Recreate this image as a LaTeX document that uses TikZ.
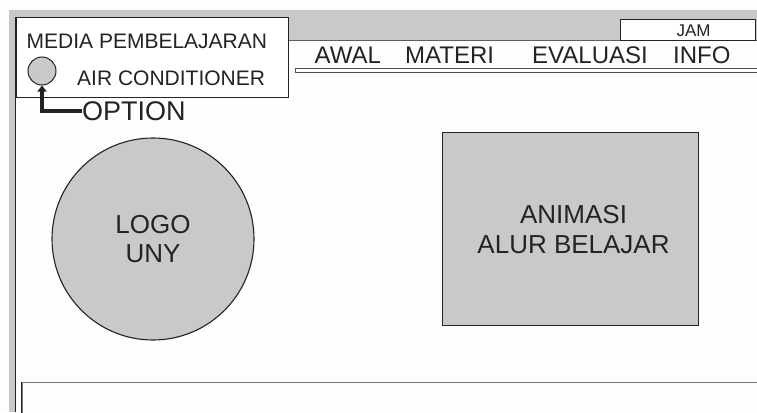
\documentclass[tikz,border=0pt]{standalone}
\usepackage{fontspec}
\setmainfont{Liberation Sans}
\usetikzlibrary{arrows.meta}

\definecolor{panelgrey}{RGB}{200,202,202}
\definecolor{inkdark}{RGB}{38,34,35}
\definecolor{edgegrey}{RGB}{120,120,120}
\definecolor{pagebg}{RGB}{253,253,253}

\tikzset{
  shapebox/.style={draw=inkdark, line width=1.1pt, fill=panelgrey},
  framebox/.style={draw=inkdark, line width=1.1pt, fill=white},
  label/.style={inner sep=0pt, text=inkdark},
  menuitem/.style={label, anchor=base west, font=\fontsize{24}{28}\selectfont},
  paneltext/.style={label, anchor=base west, font=\fontsize{21}{24}\selectfont},
  optarrow/.style={draw=inkdark, line width=3.8pt, -{Triangle[width=9pt,length=6pt]}},
}

\begin{document}
\begin{tikzpicture}[x=1pt, y=-1pt]
  % page
  \useasboundingbox (0,0) rectangle (757,412);
  \fill[pagebg] (0,0) rectangle (757,412);

  % window chrome: grey title band and left rail
  \fill[panelgrey] (9,10) rectangle (757,40);
  \fill[panelgrey] (9,10) rectangle (15.5,412);
  \draw[inkdark, line width=1.1pt] (15.8,17) -- (15.8,412);
  \draw[edgegrey!70!inkdark, line width=1pt] (288,40.5) -- (757,40.5);

  % clock box
  \node[framebox, minimum width=135pt, minimum height=21pt, anchor=north west,
        inner sep=0pt] (jambox) at (620,19) {};
  \node[label, anchor=base, font=\fontsize{17}{20}\selectfont] (jam) at (693.5,37) {JAM};

  % title panel
  \node[framebox, minimum width=272pt, minimum height=80pt, anchor=north west,
        inner sep=0pt] (panel) at (16,17) {};
  \node[paneltext] (title) at (26.5,48.5) {MEDIA PEMBELAJARAN};
  \node[paneltext] (subtitle) at (77,85.5) {AIR CONDITIONER};
  \node[circle, shapebox, line width=1pt, minimum size=28pt, inner sep=0pt] (optbtn) at (42,71) {};

  % option label and pointer
  \node[label, anchor=west, font=\fontsize{27}{30}\selectfont,
        text height=19pt, text depth=0pt] (opt) at (82,111) {OPTION};
  \draw[optarrow] (opt.west) -| (optbtn.south);

  % menu bar
  \node[menuitem] (awal) at (314.5,63.5) {AWAL};
  \node[menuitem] (materi) at (405,63.5) {MATERI};
  \node[menuitem] (evaluasi) at (532,63.5) {EVALUASI};
  \node[menuitem] (info) at (673,63.5) {INFO};
  \draw[inkdark!80, line width=1pt, fill=white] (295,68) rectangle (770,72);

  % logo
  \node[circle, shapebox, minimum size=202pt, inner sep=0pt] (logo) at (153,239) {};
  \node[label, align=center, font=\fontsize{26}{29}\selectfont] (logotext) at (logo.center) {LOGO\\UNY};

  % learning-flow animation
  \node[shapebox, minimum width=256pt, minimum height=193pt, anchor=north west,
        inner sep=0pt] (anim) at (442,132) {};
  \node[label, align=center, font=\fontsize{26}{30}\selectfont] (animtext)
        at ([xshift=3pt]anim.center) {ANIMASI\\ALUR BELAJAR};

  % content area
  \node[draw=edgegrey, line width=1.2pt, fill=pagebg, minimum width=760pt, minimum height=60pt,
        anchor=north west, inner sep=0pt] (content) at (21.5,382) {};
  \draw[inkdark, line width=1.2pt] (content.north west) -- (content.south west);
\end{tikzpicture}
\end{document}
